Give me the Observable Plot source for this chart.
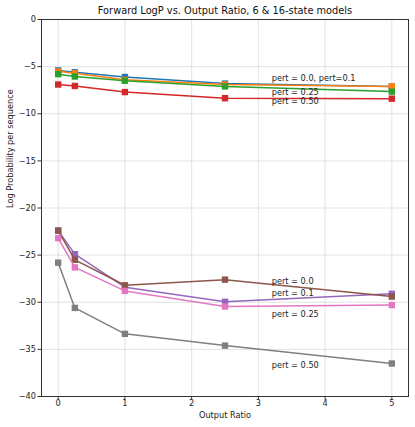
<!DOCTYPE html>
<html><head>
<meta charset="utf-8">
<script src="https://cdn.jsdelivr.net/npm/d3@7"></script>
<script src="https://cdn.jsdelivr.net/npm/@observablehq/plot@0.6"></script>
<style>body{margin:0;background:#fff;} svg{display:block;}</style>
</head><body><div id="chart"></div>
<script>
const title = "Forward LogP vs. Output Ratio, 6 & 16-state models";
const ratios = [0, 0.25, 1, 2.5, 5];
const xTicks = [0, 1, 2, 3, 4, 5];
const yTicks = [0, -5, -10, -15, -20, -25, -30, -35, -40];

// 6-state models
const s6_pert000 = [-5.4, -5.6, -6.1, -6.8, -7.1];
const s6_pert010 = [-5.5, -5.7, -6.4, -6.9, -7.1];
const s6_pert025 = [-5.8, -6.05, -6.5, -7.1, -7.65];
const s6_pert050 = [-6.9, -7.05, -7.7, -8.35, -8.4];
// 16-state models
const s16_pert010 = [-22.4, -24.9, -28.4, -29.95, -29.1];
const s16_pert000 = [-22.4, -25.5, -28.2, -27.6, -29.4];
const s16_pert025 = [-23.2, -26.3, -28.8, -30.45, -30.3];
const s16_pert050 = [-25.8, -30.6, -33.35, -34.6, -36.5];

const seriesNames = ["6 pert 0.0", "6 pert 0.1", "6 pert 0.25", "6 pert 0.50",
                     "16 pert 0.1", "16 pert 0.0", "16 pert 0.25", "16 pert 0.50"];
const seriesValues = [s6_pert000, s6_pert010, s6_pert025, s6_pert050,
                      s16_pert010, s16_pert000, s16_pert025, s16_pert050];
const colors = ["#1f77b4", "#ff7f0e", "#2ca02c", "#d62728",
                "#9467bd", "#8c564b", "#e377c2", "#7f7f7f"];

const annoText = ["pert = 0.0, pert=0.1", "pert = 0.25", "pert = 0.50",
                  "pert = 0.0", "pert = 0.1", "pert = 0.25", "pert = 0.50"];
const annoX = [3.2, 3.2, 3.2, 3.2, 3.2, 3.2, 3.2];
const annoY = [-6.25, -7.7, -8.7, -27.75, -29.05, -31.3, -36.65];

const annos = annoText.map((t, i) => ({text: t, x: annoX[i], y: annoY[i]}));

const seriesMarks = [];
seriesNames.forEach((name, i) => {
  const rows = ratios.map((r, j) => ({x: r, y: seriesValues[i][j], s: name}));
  seriesMarks.push(Plot.line(rows, {x: "x", y: "y", stroke: colors[i], strokeWidth: 1.5}));
  seriesMarks.push(Plot.dot(rows, {x: "x", y: "y", symbol: "square", fill: colors[i], r: 3.6, stroke: "none"}));
});

const fmt = d => d < 0 ? "\u2212" + (-d) : String(d);

const chart = Plot.plot({
  width: 415,
  height: 427,
  marginLeft: 41,
  marginRight: 7,
  marginTop: 19,
  marginBottom: 31,
  style: {fontFamily: "DejaVu Sans, sans-serif", fontSize: "8.2px", color: "#222", background: "#fff"},
  x: {domain: [-0.25, 5.25]},
  y: {domain: [-40, 0]},
  marks: [
    Plot.gridX(xTicks, {stroke: "#dcdcdc", strokeOpacity: 1, strokeWidth: 0.8}),
    Plot.gridY(yTicks, {stroke: "#dcdcdc", strokeOpacity: 1, strokeWidth: 0.8}),
    Plot.axisX(xTicks, {tickSize: 3.5, tickPadding: 0.5, label: null, tickFormat: fmt, stroke: "#333", fontSize: 8.2}),
    Plot.axisY(yTicks, {tickSize: 3.5, tickPadding: 2, label: null, tickFormat: fmt, stroke: "#333", fontSize: 8.2}),
    ...seriesMarks,
    Plot.text(annos, {x: "x", y: "y", text: "text", textAnchor: "start", fontSize: 8.2, fill: "#222"}),
    Plot.frame({stroke: "#333", strokeWidth: 1}),
    Plot.text([title], {frameAnchor: "top", lineAnchor: "middle", dy: -9, fontSize: 9.8, fill: "#111"}),
    Plot.text(["Output Ratio"], {frameAnchor: "bottom", lineAnchor: "middle", dy: 19, fontSize: 8.2, fill: "#222"}),
    Plot.text(["Log Probability per sequence"], {frameAnchor: "left", dx: -31, rotate: -90, fontSize: 8.2, fill: "#222"})
  ]
});
document.getElementById("chart").appendChild(chart);
</script>
</body></html>
